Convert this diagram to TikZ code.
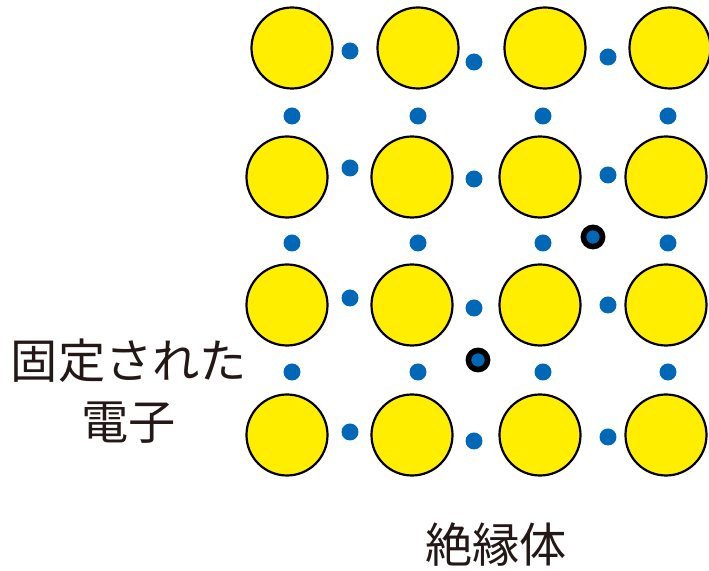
\documentclass[tikz,border=0pt]{standalone}
\usepackage{fontspec}
\newfontfamily\jpfont{Noto Sans CJK JP}
\usepackage{tikz}
\usetikzlibrary{positioning}

\definecolor{ionyellow}{RGB}{255,238,0}
\definecolor{elecblue}{RGB}{0,104,183}
\definecolor{inkdark}{RGB}{35,24,21}

\tikzset{
    ion/.style={circle, draw=black, fill=ionyellow, line width=1.1pt, minimum size=40.5pt, inner sep=0pt},
    elec/.style={circle, fill=elecblue, minimum size=8.5pt, inner sep=0pt},
    trapped/.style={circle, draw=black, fill=elecblue, line width=2.8pt, minimum size=9.6pt, inner sep=0pt},
    jptext/.style={text=inkdark, font=\jpfont\fontsize{23.6}{30.5}\selectfont, align=center, inner sep=0pt}
}

\begin{document}
\begin{tikzpicture}[x=0.5pt, y=-0.5pt]
    \useasboundingbox (0,0) rectangle (709,571);

    % ioni del reticolo
    \foreach \x [count=\c] in {292,418,545,670}
        \node[ion] (ion-1-\c) at (\x,48) {};
    \foreach \y [count=\r from 2] in {177,305,435}
        \foreach \x [count=\c] in {287,412,540,666}
            \node[ion] (ion-\r-\c) at (\x,\y) {};

    % elettroni tra gli ioni (orizzontali)
    \foreach \r/\ya/\yb/\yc in {1/51/62/57, 2/168/179/175, 3/298/308/305, 4/432/441/437} {
        \node[elec] (eh-\r-1) at (350,\ya) {};
        \node[elec] (eh-\r-2) at (474,\yb) {};
        \node[elec] (eh-\r-3) at (608,\yc) {};
    }

    % elettroni tra le righe (verticali)
    \foreach \y [count=\r] in {116,243,372}
        \foreach \x [count=\c] in {292,418,543,668}
            \node[elec] (ev-\r-\c) at (\x,\y) {};

    % elettroni fissati
    \node[trapped] (fix-a) at (593,237) {};
    \node[trapped] (fix-b) at (478,360) {};

    \node[jptext] (fixed) at (129,391) {固定された\\電子};
    \node[jptext] (insul) at (496,545) {絶縁体};
\end{tikzpicture}
\end{document}
